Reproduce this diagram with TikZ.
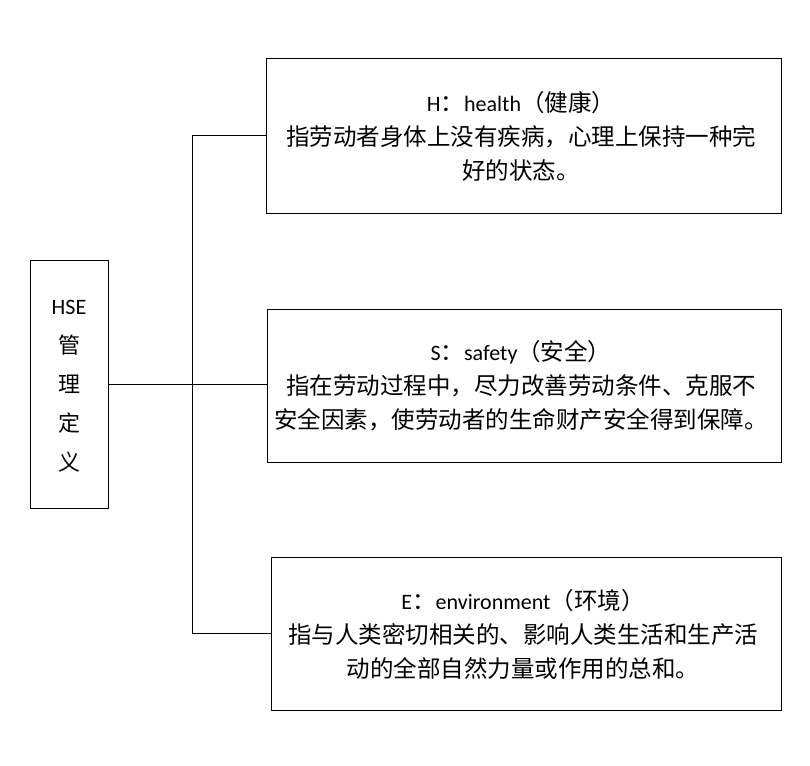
\documentclass[tikz,border=0pt]{standalone}
\usepackage{fontspec}
\setmainfont{Carlito}
\newfontfamily\cjk{Noto Sans CJK SC}
\newfontfamily\lat{Carlito}
\newcommand{\la}[1]{{\lat\fontsize{22}{34}\selectfont #1}}
\begin{document}
\begin{tikzpicture}[x=1pt,y=-1pt,
  box/.style={draw,line width=0.8pt,inner sep=0pt},
  txt/.style={align=center,font=\fontsize{23.5}{34}\selectfont\cjk},
  ln/.style={line width=0.8pt}]
\useasboundingbox (0,0) rectangle (810,765);
\node[box,minimum width=78,minimum height=248] (L) at (69,384) {};
\node[txt,font=\fontsize{22}{39}\selectfont\cjk] (Lt) at (69,386) {\la{HSE}\\管\\理\\定\\义};
\node[box,minimum width=515,minimum height=155] (H) at (523.5,135.5) {};
\node[txt] (Ht) at (521,136) {\la{H}：\la{health}（健康）\\指劳动者身体上没有疾病，心理上保持一种完\\好的状态。};
\node[box,minimum width=514,minimum height=153] (S) at (524,385.5) {};
\node[txt] (St) at (521,386) {\la{S}：\la{safety}（安全）\\指在劳动过程中，尽力改善劳动条件、克服不\\安全因素，使劳动者的生命财产安全得到保障。};
\node[box,minimum width=510,minimum height=153] (E) at (526,633.5) {};
\node[txt] (Et) at (523,634) {\la{E}：\la{environment}（环境）\\指与人类密切相关的、影响人类生活和生产活\\动的全部自然力量或作用的总和。};
\coordinate (j) at (192,384);
\draw[ln] (L.east) -- (L.east -| S.west);
\draw[ln] (H.west) -| (j);
\draw[ln] (E.west) -| (j);
\end{tikzpicture}
\end{document}
